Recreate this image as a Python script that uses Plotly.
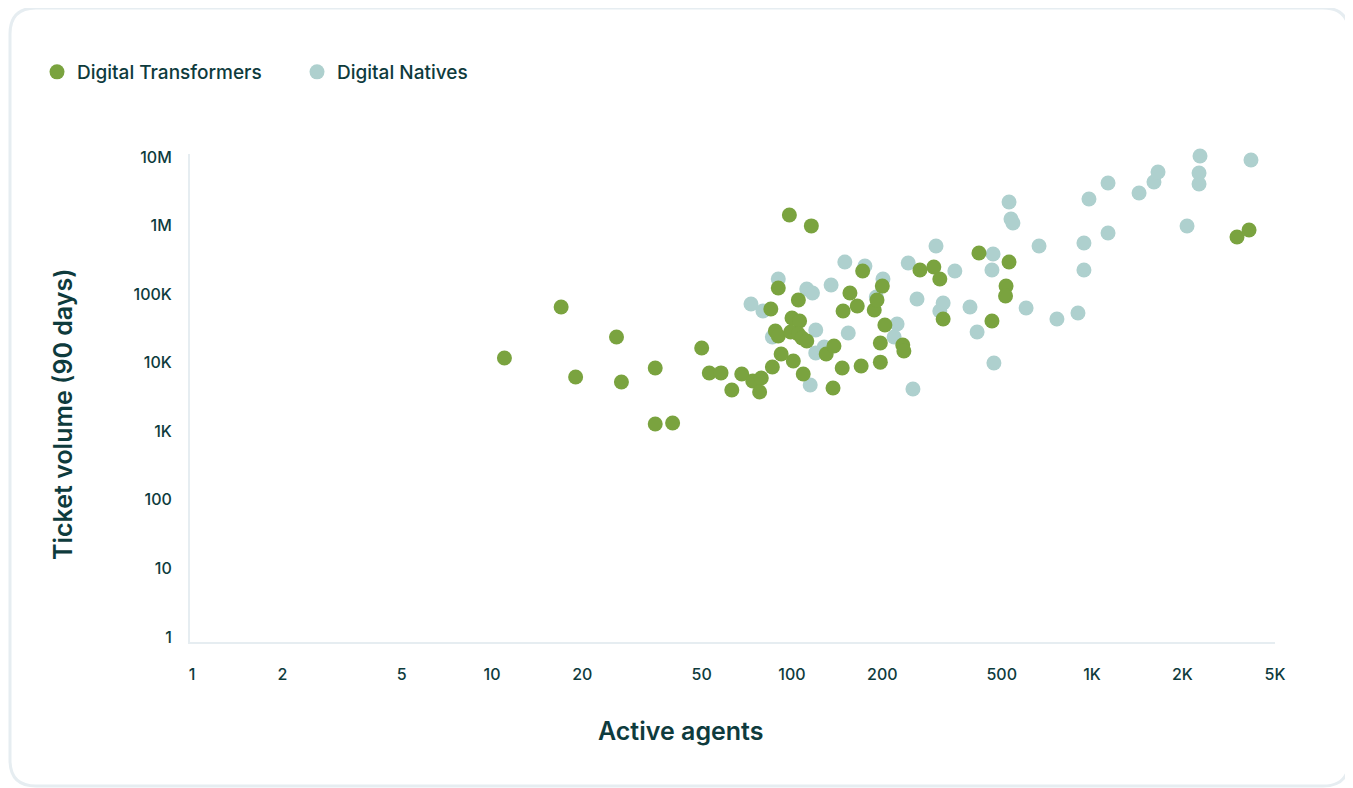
import plotly.graph_objects as go

# ---------------- data ----------------
transformers_agents = [11, 17, 19, 26, 27, 35, 35, 40, 50, 53, 58, 63, 68, 74, 79, 78,
                       85, 90, 86, 92, 88, 90, 98, 116, 105, 100, 106, 99, 105, 108,
                       112, 101, 109, 130, 138, 137, 147, 148, 156, 165, 172, 170,
                       188, 192, 197, 197, 200, 204, 234, 236, 267, 297, 311, 319,
                       420, 464, 517, 515, 529, 3043, 3338]
transformers_tickets = [11700, 65000, 6200, 23700, 5230, 8380, 1280, 1320, 16400, 7080,
                        7100, 4000, 6840, 5410, 6000, 3740, 60700, 123000, 8660, 13400,
                        29000, 24500, 1430000, 990000, 82200, 44900, 40600, 28100,
                        26200, 22900, 20700, 10600, 6840, 13400, 17500, 4280, 8380,
                        56800, 104000, 67200, 218000, 8960, 58700, 82200, 19400, 10200,
                        131000, 35500, 18100, 14800, 225000, 249000, 166000, 43400,
                        398000, 40600, 131000, 94000, 294000, 681000, 862000]

natives_agents = [73, 80, 86, 90, 112, 117, 115, 120, 120, 128, 135, 150, 154, 175,
                  191, 201, 219, 224, 244, 253, 261, 302, 311, 319, 349, 392, 414,
                  468, 464, 471, 529, 537, 545, 603, 666, 764, 898, 940, 940, 977,
                  1131, 1131, 1435, 1609, 1660, 2074, 2274, 2274, 2291, 3388, 4607]
natives_tickets = [71800, 56800, 23700, 166000, 119000, 104000, 4730, 30000, 13900,
                   16900, 136000, 294000, 27100, 257000, 90800, 166000, 23700, 36700,
                   285000, 4140, 85000, 504000, 56800, 74300, 218000, 65000, 28100,
                   385000, 225000, 9910, 2207000, 1247000, 1090000, 62800, 504000,
                   43400, 53100, 557000, 225000, 2442000, 4180000, 780000, 2987000,
                   4322000, 6040000, 986000, 4038000, 5846000, 10350000, 9040000,
                   1090000]

x_tick_values = [1, 2, 5, 10, 20, 50, 100, 200, 500, 1000, 2000, 4074]
x_tick_labels = ["1", "2", "5", "10", "20", "50", "100", "200", "500", "1K", "2K", "5K"]
y_tick_values = [1, 10, 100, 1000, 10000, 100000, 1000000, 10000000]
y_tick_labels = ["1", "10", "100", "1K", "10K", "100K", "1M", "10M"]

# ---------------- style ----------------
W, H = 1353, 788
OFF = 8                                # page body margin offset
PL, PR, PT, PB = 190, 1275, 154, 642   # plot area in screen pixels
GREEN = "#7AA33F"
TEAL = "#AED0CE"
INK = "#0E3B3D"
LINE = "#E6EDF1"
FONT = "Inter"


def px_to_paper(px, py):
    return (px - PL) / (PR - PL), (PB - py) / (PB - PT)


fig = go.Figure()
fig.add_trace(go.Scatter(
    x=natives_agents, y=natives_tickets, mode="markers", name="Digital Natives",
    marker=dict(color=TEAL, size=15, line=dict(width=0)), cliponaxis=False,
    legendrank=2))
fig.add_trace(go.Scatter(
    x=transformers_agents, y=transformers_tickets, mode="markers",
    name="Digital Transformers",
    marker=dict(color=GREEN, size=15, line=dict(width=0)), cliponaxis=False,
    legendrank=1))

# rounded card border
x0, y0 = px_to_paper(10, 8)
x1, y1 = px_to_paper(1349, 786)
rx = 26 / (PR - PL)
ry = 26 / (PB - PT)
path = (f"M {x0 + rx} {y0} L {x1 - rx} {y0} Q {x1} {y0} {x1} {y0 - ry} "
        f"L {x1} {y1 + ry} Q {x1} {y1} {x1 - rx} {y1} "
        f"L {x0 + rx} {y1} Q {x0} {y1} {x0} {y1 + ry} "
        f"L {x0} {y0 - ry} Q {x0} {y0} {x0 + rx} {y0} Z")
fig.add_shape(type="path", path=path, xref="paper", yref="paper",
              line=dict(color=LINE, width=3), fillcolor="rgba(0,0,0,0)", layer="below")

ax_x, ax_y = px_to_paper(680, 731)
fig.add_annotation(text="Active agents", x=ax_x, y=ax_y, xref="paper", yref="paper",
                   showarrow=False, xanchor="center", yanchor="middle",
                   font=dict(family=FONT, size=25, color=INK, weight=600))
ay_x, ay_y = px_to_paper(63, 415)
fig.add_annotation(text="Ticket volume (90 days)", x=ay_x, y=ay_y, xref="paper",
                   yref="paper", showarrow=False, textangle=-90, xanchor="center",
                   yanchor="middle",
                   font=dict(family=FONT, size=25, color=INK, weight=600))

lg_x, lg_y = px_to_paper(37, 72)
fig.update_layout(
    width=W, height=H,
    margin=dict(l=PL - OFF, r=W - (PR - OFF), t=PT - OFF, b=H - (PB - OFF),
                autoexpand=False),
    paper_bgcolor="white", plot_bgcolor="white",
    font=dict(family=FONT, color=INK),
    showlegend=True,
    legend=dict(orientation="h", x=lg_x, y=lg_y, xanchor="left", yanchor="middle",
                font=dict(family=FONT, size=19, color=INK, weight=500),
                entrywidth=215, entrywidthmode="pixels", itemclick=False,
                bgcolor="rgba(0,0,0,0)"),
    xaxis=dict(type="log", range=[-0.0067, 3.61], tickvals=x_tick_values,
               ticktext=x_tick_labels, showgrid=False, zeroline=False,
               showline=True, linecolor=LINE, linewidth=2, ticks="",
               ticklabelstandoff=17, automargin=False,
               tickfont=dict(family=FONT, size=16, color=INK, weight=500)),
    yaxis=dict(type="log", range=[-0.073, 7.044], tickvals=y_tick_values,
               ticktext=y_tick_labels, showgrid=False, zeroline=False,
               showline=True, linecolor=LINE, linewidth=2, ticks="",
               ticklabelstandoff=13, automargin=False,
               tickfont=dict(family=FONT, size=16, color=INK, weight=500)),
)

fig.write_html("out.html")
